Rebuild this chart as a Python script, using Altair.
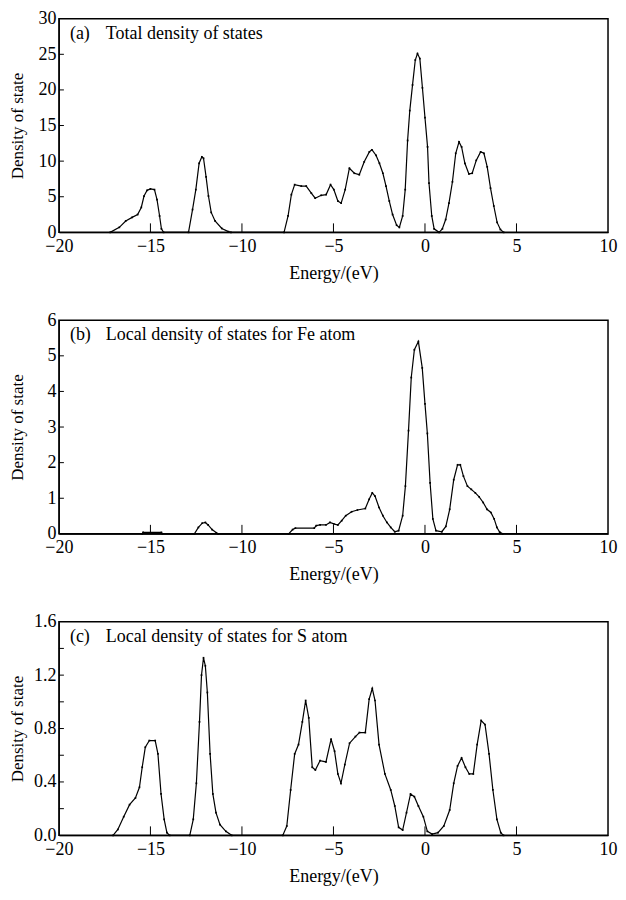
import altair as alt
import pandas as pd

# ---------------- data ----------------
# (a) Total density of states
E_a = [-17.2, -16.7, -16.35, -16.0, -15.7, -15.5, -15.35, -15.18, -15.0, -14.78, -14.64, -14.5, -14.4, -14.28,
       -12.92, -12.7, -12.52, -12.34, -12.19, -12.1, -11.96, -11.83, -11.68, -11.47, -11.1, -10.74, -10.6,
       -7.7, -7.48, -7.3, -7.12, -6.76, -6.49, -6.21, -6.0, -5.67, -5.4, -5.16, -4.98, -4.76, -4.58, -4.36,
       -4.13, -3.86, -3.59, -3.32, -3.04, -2.9, -2.67, -2.49, -2.3, -2.13, -1.95, -1.77, -1.55, -1.4, -1.22,
       -1.08, -0.95, -0.83, -0.68, -0.53, -0.41, -0.28, -0.14, 0.0, 0.14, 0.22, 0.37, 0.5, 0.77, 0.95, 1.13,
       1.31, 1.5, 1.68, 1.86, 2.0, 2.18, 2.4, 2.58, 2.8, 3.04, 3.22, 3.4, 3.58, 3.76, 3.94, 4.12, 4.3]
D_a = [0, 0.7, 1.6, 2.1, 2.5, 3.5, 5.1, 5.9, 6.1, 6.0, 4.6, 2.3, 0.5, 0,
       0, 3.2, 6.0, 9.7, 10.6, 10.4, 7.8, 5.1, 2.8, 1.6, 0.55, 0.1, 0,
       0, 2.3, 5.3, 6.7, 6.5, 6.5, 5.5, 4.8, 5.2, 5.3, 6.7, 6.0, 4.4, 4.1, 6.0,
       9.0, 8.3, 8.1, 9.9, 11.3, 11.6, 10.8, 9.7, 8.3, 6.5, 4.4, 2.5, 1.0, 0.7, 2.3,
       6.0, 12.9, 17.1, 20.7, 24.2, 25.1, 24.4, 20.3, 16.1, 12.0, 6.9, 2.3, 0.5, 0.0, 0.5, 1.8,
       4.1, 7.1, 11.1, 12.7, 12.0, 9.7, 8.2, 8.3, 10.1, 11.3, 11.1, 9.2, 6.2, 3.7, 1.4, 0.4, 0]

# (b) Local density of states for Fe atom
E_b = [-15.45, -15.4, -14.4, -14.35,
       -12.6, -12.38, -12.17, -12.0, -11.85, -11.63, -11.4, -11.3,
       -7.45, -7.23, -7.08, -6.05, -5.94, -5.73, -5.41, -5.19, -4.98, -4.76, -4.55, -4.33, -4.01, -3.69,
       -3.26, -3.05, -2.88, -2.73, -2.51, -2.3, -2.08, -1.87, -1.65, -1.44, -1.22, -1.07, -0.9, -0.75,
       -0.58, -0.36, -0.15, 0.0, 0.13, 0.28, 0.43, 0.6, 0.92, 1.14, 1.35, 1.57, 1.78, 1.93, 2.1, 2.32,
       2.53, 2.75, 2.96, 3.18, 3.39, 3.6, 3.78, 3.93, 4.08, 4.25]
D_b = [0, 0.04, 0.04, 0,
       0, 0.18, 0.3, 0.32, 0.25, 0.12, 0.03, 0,
       0, 0.12, 0.16, 0.16, 0.23, 0.25, 0.25, 0.32, 0.28, 0.25, 0.37, 0.51, 0.62, 0.67,
       0.71, 0.97, 1.15, 1.06, 0.74, 0.51, 0.32, 0.18, 0.06, 0.09, 0.51, 1.34, 2.9, 4.39,
       5.17, 5.4, 4.66, 3.65, 2.82, 1.43, 0.42, 0.09, 0.06, 0.21, 0.69, 1.52, 1.94, 1.94, 1.62, 1.34,
       1.25, 1.15, 1.04, 0.88, 0.69, 0.6, 0.42, 0.18, 0.05, 0]

# (c) Local density of states for S atom
E_c = [-17.04, -16.78, -16.46, -16.14, -15.82, -15.6, -15.45, -15.28, -15.06, -14.74, -14.59, -14.42,
       -14.25, -14.1, -13.95,
       -12.85, -12.66, -12.49, -12.32, -12.21, -12.1, -12.0, -11.89, -11.74, -11.59, -11.42, -11.2,
       -10.88, -10.56,
       -7.77, -7.55, -7.34, -7.12, -6.91, -6.7, -6.52, -6.35, -6.16, -5.99, -5.73, -5.41, -5.13, -4.94,
       -4.76, -4.59, -4.38, -4.12, -3.8, -3.58, -3.26, -3.05, -2.88, -2.73, -2.51, -2.19, -1.87, -1.65,
       -1.44, -1.22, -1.01, -0.79, -0.58, -0.36, -0.09, 0.13, 0.39, 0.71, 1.03, 1.35, 1.57, 1.78, 2.0,
       2.21, 2.42, 2.64, 2.85, 3.07, 3.28, 3.5, 3.71, 3.93, 4.14, 4.29]
D_c = [0, 0.044, 0.14, 0.23, 0.28, 0.36, 0.51, 0.66, 0.71, 0.71, 0.61, 0.31,
       0.12, 0.02, 0,
       0, 0.12, 0.39, 0.85, 1.2, 1.33, 1.27, 1.07, 0.61, 0.31, 0.17, 0.08,
       0.03, 0,
       0, 0.07, 0.34, 0.61, 0.68, 0.85, 1.01, 0.88, 0.51, 0.49, 0.56, 0.55, 0.72, 0.63,
       0.46, 0.39, 0.53, 0.69, 0.74, 0.77, 0.77, 1.02, 1.1, 1.01, 0.68, 0.46, 0.34, 0.22,
       0.06, 0.04, 0.17, 0.31, 0.29, 0.22, 0.14, 0.03, 0.01, 0.02, 0.07, 0.19, 0.39, 0.52, 0.58,
       0.51, 0.46, 0.46, 0.68, 0.86, 0.83, 0.61, 0.34, 0.12, 0.02, 0]

panel_letters = ["(a)", "(b)", "(c)"]
panel_titles = ["Total density of states",
                "Local density of states for Fe atom",
                "Local density of states for S atom"]

x_domain = [-20, 10]
x_label_values = [-20, -15, -10, -5, 0, 5, 10]
x_tick_values = [-15, -10, -5, 0, 5]

y_domains = [[0, 30], [0, 6], [0, 1.6]]
y_label_values = [[0, 5, 10, 15, 20, 25, 30],
                  [0, 1, 2, 3, 4, 5, 6],
                  [0, 0.4, 0.8, 1.2, 1.6]]
y_tick_values = [[5, 10, 15, 20, 25],
                 [1, 2, 3, 4, 5],
                 [0.2, 0.4, 0.6, 0.8, 1.0, 1.2, 1.4]]
y_formats = ["d", "d", ".1f"]

x_title = "Energy/(eV)"
y_title = "Density of state"

# ---------------- styling ----------------
FONT = "Liberation Serif"
W, H = 550, 214


def panel(E, D, i):
    df = pd.DataFrame({"E": E, "D": D})
    xs = alt.Scale(domain=x_domain, nice=False, zero=False)
    ys = alt.Scale(domain=y_domains[i], nice=False)
    x_axis = alt.Axis(values=x_label_values, format="d", title=x_title, labelPadding=5,
                      titleBaseline="top", titleY=32, labelFlush=False)
    y_axis = alt.Axis(values=y_label_values[i], format=y_formats[i], title=y_title,
                      titleX=-41, titleBaseline="middle", titleFontSize=17, labelFlush=False)
    X = alt.X("E:Q", scale=xs, axis=x_axis)
    Y = alt.Y("D:Q", scale=ys, axis=y_axis)

    base = alt.Chart(df)
    line = base.mark_line(color="black", strokeWidth=1.2).encode(x=X, y=Y)
    pts = base.mark_square(color="black", size=3, opacity=1).encode(x=X, y=Y)
    xt = alt.Chart(pd.DataFrame({"E": x_tick_values})).mark_rule(color="black", strokeWidth=1).encode(
        x=X, y=alt.value(H), y2=alt.value(H - 9),
    )
    yt = alt.Chart(pd.DataFrame({"D": y_tick_values[i]})).mark_rule(color="black", strokeWidth=1).encode(
        y=Y, x=alt.value(0), x2=alt.value(5),
    )
    lab1 = alt.Chart(pd.DataFrame({"t": [panel_letters[i]]})).mark_text(
        align="left", baseline="middle", font=FONT, fontSize=18, color="black"
    ).encode(x=alt.value(11), y=alt.value(15), text="t:N")
    lab2 = alt.Chart(pd.DataFrame({"t": [panel_titles[i]]})).mark_text(
        align="left", baseline="middle", font=FONT, fontSize=18, color="black"
    ).encode(x=alt.value(47), y=alt.value(15), text="t:N")
    return alt.layer(line, pts, xt, yt, lab1, lab2).properties(width=W, height=H)


chart = alt.vconcat(
    panel(E_a, D_a, 0),
    panel(E_b, D_b, 1),
    panel(E_c, D_c, 2),
    spacing=88,
    bounds="flush",
).properties(
    padding={"left": 0, "top": 0, "right": 0, "bottom": 0}
).configure_view(
    stroke="black", strokeWidth=1.5
).configure_axis(
    grid=False, ticks=False, domainColor="black", domainWidth=1,
    labelFont=FONT, labelFontSize=18, labelColor="black", labelPadding=3,
    titleFont=FONT, titleFontSize=18, titleFontWeight="normal", titleColor="black",
)

chart.save("out.html", embed_options={"renderer": "svg", "actions": False})
